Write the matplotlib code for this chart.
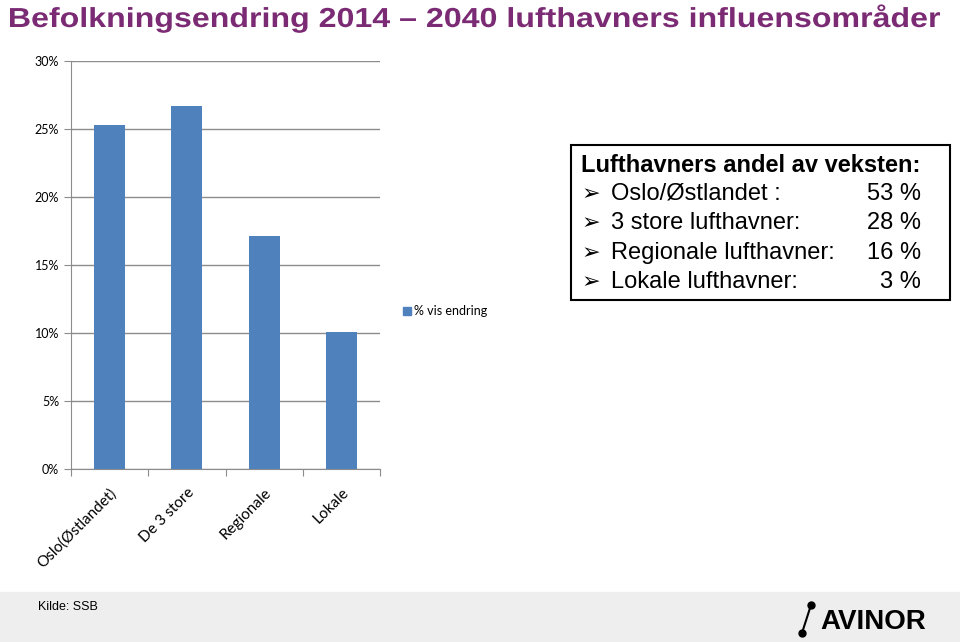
import matplotlib.pyplot as plt
from matplotlib.patches import Rectangle, PathPatch
from matplotlib.ticker import PercentFormatter
from matplotlib.textpath import TextPath
from matplotlib.font_manager import FontProperties
from matplotlib.transforms import Affine2D

# data
categories = ["Oslo(Østlandet)", "De 3 store", "Regionale", "Lokale"]
change_pct = [25.3, 26.7, 17.1, 10.1]
box_labels = ["Oslo/Østlandet :", "3 store lufthavner:", "Regionale lufthavner:", "Lokale lufthavner:"]
box_shares = ["53 %", "28 %", "16 %", "3 %"]
title = "Befolkningsendring 2014 \u2013 2040 lufthavners influensområder"

purple = "#7B2B74"
blue = "#4F81BD"
grid = "#8C8C8C"

W, H = 960, 642
fig = plt.figure(figsize=(9.6, 6.42), dpi=100)

# title: condensed bold, drawn as a path squeezed horizontally
tp = TextPath((0, 0), title, size=27.5, prop=FontProperties(family="Liberation Sans", weight="bold"))
ext = tp.get_extents()
sx = 930 / ext.width
tr = Affine2D().translate(-ext.x0, 0).scale(sx / W, 1 / H).translate(10 / W, (H - 27) / H) + fig.transFigure
fig.patches.append(PathPatch(tp, transform=tr, color=purple, lw=0))

ax = fig.add_axes([71/W, 1-469/H, 309/W, 408/H])
x = range(len(categories))
ax.bar(x, change_pct, width=0.4, color=blue, zorder=3, label="% vis endring")
ax.set_xlim(-0.5, len(categories)-0.5)
ax.set_ylim(0, 30)
ax.set_yticks(range(0, 31, 5))
ax.yaxis.set_major_formatter(PercentFormatter(decimals=0))
ax.grid(axis="y", color=grid, lw=1, zorder=0)
for s in ["top", "right"]:
    ax.spines[s].set_visible(False)
ax.spines["left"].set_color(grid)
ax.spines["bottom"].set_color(grid)
ax.tick_params(axis="y", colors=grid, length=5, labelsize=9, labelcolor="black")
for t in ax.get_yticklabels():
    t.set_family("Lato")
ax.set_xticks([i + 0.5 for i in range(-1, len(categories))], minor=False)
ax.set_xticklabels([])
ax.tick_params(axis="x", colors=grid, length=5)
ax.set_xticks(list(x), minor=True)
ax.set_xticklabels(categories, minor=True, rotation=45, ha="right", va="top",
                   rotation_mode="anchor", family="Lato", fontsize=11)
ax.tick_params(axis="x", which="minor", length=0, pad=12)

# legend outside plot area
fig.patches.append(Rectangle((403/W, 1-315/H), 8/W, 8/H, transform=fig.transFigure,
                             color=blue))
fig.text(414/W, 1-311/H, "% vis endring", family="Lato", fontsize=9, va="center")

# text box
fig.patches.append(Rectangle((571/W, 1-300/H), 379/W, 155/H, transform=fig.transFigure,
                             fill=False, ec="black", lw=1.5))
fig.text(581/W, 1-166/H, "Lufthavners andel av veksten:", family="Liberation Sans",
         weight="bold", fontsize=17, va="center")
for i, (lab, val) in enumerate(zip(box_labels, box_shares)):
    yy = 1 - (194 + i*29.3)/H
    fig.text(582/W, yy, "\u27a2", family=["DejaVu Sans"], fontsize=16, va="center")
    fig.text(611/W, yy, lab, family="Liberation Sans", fontsize=17, va="center")
    fig.text(921/W, yy, val, family="Liberation Sans", fontsize=17, va="center", ha="right")

# footer
fig.patches.append(Rectangle((0, 0), 1, 50/H, transform=fig.transFigure, color="#EEEEEE", zorder=0))
fig.text(38/W, 1-607/H, "Kilde: SSB", family="Liberation Sans", fontsize=9, va="center")
fig.lines.append(plt.Line2D([802/W, 811/W], [1-633/H, 1-605/H], transform=fig.transFigure,
                            color="black", lw=1.5))
fig.lines.append(plt.Line2D([802/W, 811/W], [1-633/H, 1-605/H], transform=fig.transFigure,
                            color="black", lw=0, marker="o", markersize=5))
fig.text(820/W, 1-622/H, "AVINOR", family="Liberation Sans", weight="bold",
         fontsize=20, va="center")

fig.savefig("out.png", dpi=100)
